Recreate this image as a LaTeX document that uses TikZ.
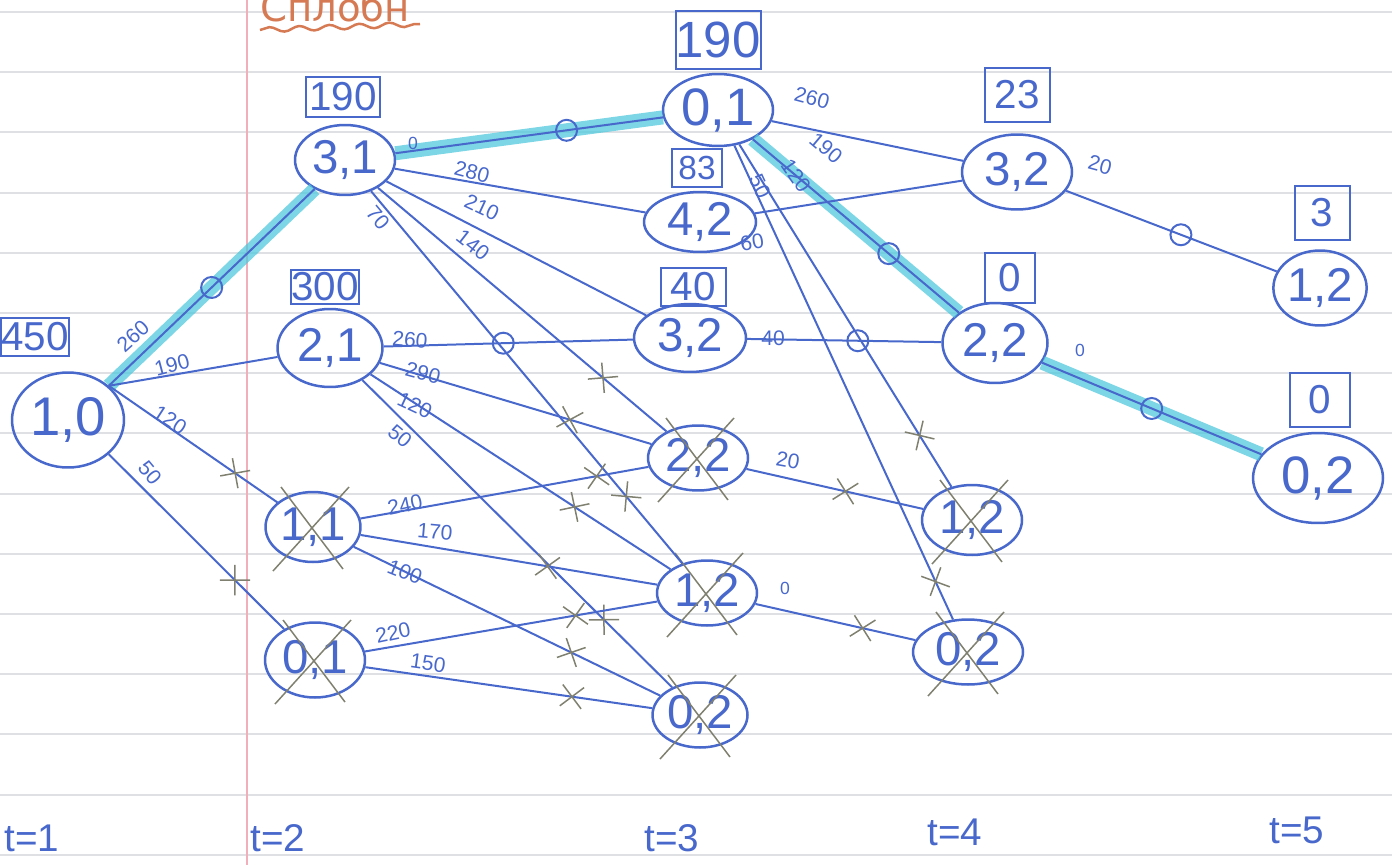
\documentclass[tikz,border=0pt]{standalone}
\usepackage{fontspec}
\setmainfont{Liberation Sans}
\newfontfamily\cyr{DejaVu Sans}
\usetikzlibrary{shapes.geometric,shapes.misc,decorations.pathmorphing}
\definecolor{pen}{RGB}{72,104,204}
\definecolor{hlc}{RGB}{80,200,220}
\definecolor{pencil}{RGB}{128,128,112}
\definecolor{ruleg}{RGB}{222,224,228}
\definecolor{marginc}{RGB}{240,175,185}
\definecolor{orng}{RGB}{214,122,84}
\begin{document}
\begin{tikzpicture}[x=0.02cm,y=-0.02cm,
 st/.style={ellipse,draw=pen,line width=0.05cm,inner sep=0pt,text=pen,font=\fontsize{27}{29}\selectfont},
 val/.style={rectangle,draw=pen,line width=0.04cm,inner sep=0pt,text=pen,font=\fontsize{23}{25}\selectfont},
 conn/.style={draw=pen,line width=0.04cm},
 lbl/.style={text=pen,inner sep=0pt,font=\fontsize{12}{14}\selectfont},
 smalllbl/.style={text=pen,inner sep=0pt,font=\fontsize{10}{12}\selectfont},
 hl/.style={draw=hlc,line width=0.28cm,opacity=0.75},
 omark/.style={circle,draw=pen,line width=0.04cm,minimum size=0.42cm,inner sep=0pt},
 xmark/.style={cross out,draw=pencil,line width=0.03cm,minimum size=0.4cm,inner sep=0pt,sloped},
 xout/.style={draw=pencil,line width=0.03cm},
 tl/.style={text=pen,font=\fontsize{22}{24}\selectfont}
]
\useasboundingbox (0,0) rectangle (1392,865);
\clip (0,0) rectangle (1392,865);

% notebook rules and margin
\foreach \k in {0,...,14} \draw[ruleg,line width=0.04cm] (0,{12+60.2*\k}) -- (1392,{12+60.2*\k});
\draw[marginc,line width=0.04cm] (247,0) -- (247,865);

% title (cut at top, as in the page)
\node[text=orng,font=\cyr\fontsize{22}{24}\selectfont,anchor=base west,inner sep=0pt] (title) at (260,22) {Сплобн};
\draw[orng,line width=0.05cm,decorate,decoration={snake,amplitude=0.05cm,segment length=0.6cm}] (title.base west) ++(0,8) -- ++(160,-6);

% states
\node[st,minimum width=2.24cm,minimum height=1.9cm,font=\fontsize{31}{33}\selectfont] (A) at (68,420) {1,0};
\node[st,minimum width=2.0cm,minimum height=1.4cm] (B1) at (345,160) {3,1};
\node[st,minimum width=2.1cm,minimum height=1.56cm] (B2) at (330,348) {2,1};
\node[st,minimum width=1.9cm,minimum height=1.4cm] (B3) at (313,527) {1,1};
\node[st,minimum width=2.0cm,minimum height=1.5cm] (B4) at (315,660) {0,1};
\node[st,minimum width=2.2cm,minimum height=1.44cm,font=\fontsize{30}{32}\selectfont] (C1) at (718,110) {0,1};
\node[st,minimum width=2.24cm,minimum height=1.2cm] (C2) at (700,222) {4,2};
\node[st,minimum width=2.24cm,minimum height=1.36cm] (C3) at (690,338) {3,2};
\node[st,minimum width=2.0cm,minimum height=1.3cm] (C4) at (698,458) {2,2};
\node[st,minimum width=2.0cm,minimum height=1.3cm] (C5) at (707,593) {1,2};
\node[st,minimum width=1.9cm,minimum height=1.3cm] (C6) at (700,715) {0,2};
\node[st,minimum width=2.2cm,minimum height=1.5cm] (D1) at (1017,172) {3,2};
\node[st,minimum width=2.1cm,minimum height=1.6cm] (D2) at (995,343) {2,2};
\node[st,minimum width=2.0cm,minimum height=1.4cm] (D3) at (972,520) {1,2};
\node[st,minimum width=2.2cm,minimum height=1.3cm] (D4) at (968,652) {0,2};
\node[st,minimum width=1.8cm,minimum height=1.5cm] (E1) at (1320,288) {1,2};
\node[st,minimum width=2.6cm,minimum height=1.8cm,font=\fontsize{30}{32}\selectfont] (E2) at (1318,478) {0,2};

% value boxes
\node[val,minimum width=1.1cm,minimum height=0.76cm] (vA) at (35,337) {450};
\node[val,minimum width=1.5cm,minimum height=0.8cm] (vB1) at (343,97) {190};
\node[val,minimum width=1.3cm,minimum height=0.7cm] (vB2) at (325,287) {300};
\node[val,minimum width=1.6cm,minimum height=1.16cm,font=\fontsize{29}{31}\selectfont] (vC1) at (718,40) {190};
\node[val,minimum width=1.0cm,minimum height=0.76cm,font=\fontsize{19}{21}\selectfont] (vC2) at (697,168) {83};
\node[val,minimum width=1.3cm,minimum height=0.76cm] (vC3) at (693,287) {40};
\node[val,minimum width=1.3cm,minimum height=1.1cm] (vD1) at (1017,95) {23};
\node[val,minimum width=1.0cm,minimum height=1.0cm] (vD2) at (1010,278) {0};
\node[val,minimum width=1.1cm,minimum height=1.1cm] (vE1) at (1322,213) {3};
\node[val,minimum width=1.2cm,minimum height=1.1cm] (vE2) at (1320,400) {0};

% crossed-out states
\foreach \n in {B3,B4,C4,C5,C6,D3,D4} {
  \draw[xout] (\n) ++(-32,-40) -- ++(62,82);
  \draw[xout] (\n) ++(36,-40) -- ++(-76,84);
}

% optimal path highlight
\draw[hl] (A.40) -- (B1);
\draw[hl] (B1) -- (C1);
\draw[hl] (C1) -- (D2);
\draw[hl] (D2) -- (E2);

% connectors
\draw[conn] (A.40) -- node[omark,pos=0.5]{} (B1);
\draw[conn] (A.40) -- (B2);
\draw[conn] (A.40) -- node[xmark,pos=0.75]{} (B3);
\draw[conn] (A.-40) -- node[xmark,pos=0.72]{} (B4);
\draw[conn] (B1) -- node[omark,pos=0.64]{} (C1);
\draw[conn] (B1) -- (C2);
\draw[conn] (B1) -- (C3);
\draw[conn] (B1) -- node[xmark,pos=0.78]{} (C4);
\draw[conn] (B1) -- node[xmark,pos=0.82]{} (C5);
\draw[conn] (B2) -- node[omark,pos=0.48]{} (C3);
\draw[conn] (B2) -- node[xmark,pos=0.70]{} (C4);
\draw[conn] (B2) -- node[xmark,pos=0.68]{} (C5);
\draw[conn] (B2) -- node[xmark,pos=0.78]{} (C6);
\draw[conn] (B3) -- node[xmark,pos=0.82]{} (C4);
\draw[conn] (B3) -- node[xmark,pos=0.63]{} (C5);
\draw[conn] (B3) -- node[xmark,pos=0.71]{} (C6);
\draw[conn] (B4) -- node[xmark,pos=0.72]{} (C5);
\draw[conn] (B4) -- node[xmark,pos=0.72]{} (C6);
\draw[conn] (C1) -- (D1);
\draw[conn] (C1) -- node[omark,pos=0.66]{} (D2);
\draw[conn] (C1) -- node[xmark,pos=0.85]{} (D3);
\draw[conn] (C1) -- node[xmark,pos=0.92]{} (D4);
\draw[conn] (C2) -- (D1);
\draw[conn] (C3) -- node[omark,pos=0.57]{} (D2);
\draw[conn] (C4) -- node[xmark,pos=0.56]{} (D3);
\draw[conn] (C5) -- node[xmark,pos=0.67]{} (D4);
\draw[conn] (D1) -- node[omark,pos=0.545]{} (E1);
\draw[conn] (D2) -- node[omark,pos=0.5]{} (E2);

% connector labels
\node[lbl,rotate=42] (l01) at (133,336) {260};
\node[lbl,rotate=15] (l02) at (172,365) {190};
\node[lbl,rotate=-33] (l03) at (170,420) {120};
\node[lbl,rotate=-50] (l04) at (150,473) {50};
\node[smalllbl] (l05) at (413,143) {0};
\node[lbl,rotate=-15] (l06) at (472,172) {280};
\node[lbl,rotate=-25] (l07) at (482,207) {210};
\node[lbl,rotate=-38] (l08) at (473,245) {140};
\node[lbl,rotate=-50] (l09) at (378,218) {70};
\node[lbl,rotate=-5] (l10) at (410,340) {260};
\node[lbl,rotate=-15] (l11) at (423,373) {290};
\node[lbl,rotate=-25] (l12) at (415,405) {120};
\node[lbl,rotate=-40] (l13) at (400,436) {50};
\node[lbl,rotate=12] (l14) at (405,505) {240};
\node[lbl,rotate=-5] (l15) at (435,532) {170};
\node[lbl,rotate=-22] (l16) at (405,572) {100};
\node[lbl,rotate=12] (l17) at (393,633) {220};
\node[lbl,rotate=-8] (l18) at (428,663) {150};
\node[lbl,rotate=-15] (l19) at (812,98) {260};
\node[lbl,rotate=-40] (l20) at (826,148) {190};
\node[lbl,rotate=-55] (l21) at (796,176) {120};
\node[lbl,rotate=-65] (l22) at (760,186) {50};
\node[lbl,rotate=10] (l23) at (752,242) {60};
\node[lbl] (l24) at (773,338) {40};
\node[lbl,rotate=-10] (l25) at (788,460) {20};
\node[smalllbl] (l26) at (785,588) {0};
\node[lbl,rotate=-15] (l27) at (1100,165) {20};
\node[smalllbl] (l28) at (1080,350) {0};

% time labels
\node[tl] (t1) at (32,838) {t=1};
\node[tl] (t2) at (278,838) {t=2};
\node[tl] (t3) at (672,838) {t=3};
\node[tl] (t4) at (955,832) {t=4};
\node[tl] (t5) at (1297,830) {t=5};
\end{tikzpicture}
\end{document}
